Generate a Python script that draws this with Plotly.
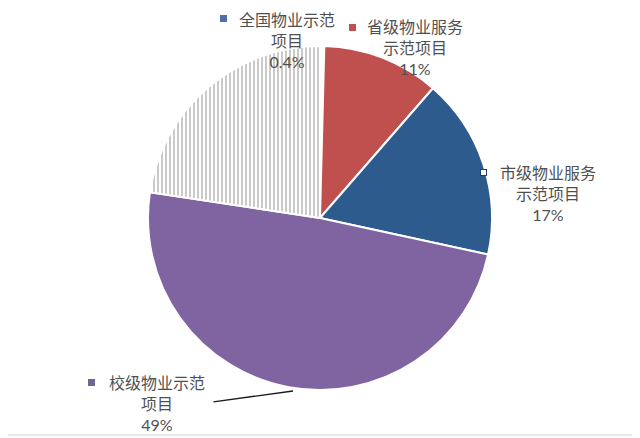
import plotly.graph_objects as go

# slice order follows the reference (clockwise from 12 o'clock)
labels = ['全国物业示范项目', '省级物业服务示范项目', '市级物业服务示范项目', '校级物业示范项目', '其他']
values = [0.4, 11, 17, 49, 22.6]
label_lines = [['全国物业示范', '项目'], ['省级物业服务', '示范项目'], ['市级物业服务', '示范项目'],
               ['校级物业示范', '项目'], None]
pct_text = ['0.4%', '11%', '17%', '49%', None]

colors = ['#ffffff', '#c0504d', '#2e5b8e', '#8064a2', '#ffffff']
key_colors = ['#4f6fa8', '#c0504d', '#ffffff', '#6e6690', None]
key_borders = ['#4f6fa8', '#c0504d', '#1f3f66', '#6e6690', None]

# page body has an 8px margin, so the figure is drawn 8px in from the window corner
OFF = 8
W, H = 640 - OFF, 438 - OFF


def px(x, y):
    # window pixel position -> paper coords
    return (x - OFF) / W, 1 - (y - OFF) / H


fig = go.Figure()

d_x0, d_y1 = px(148, 46)
d_x1, d_y0 = px(492, 390)
fig.add_trace(go.Pie(
    labels=labels, values=values,
    sort=False, direction='clockwise', rotation=0,
    textinfo='none', hoverinfo='label+percent',
    marker=dict(colors=colors, line=dict(color='white', width=2),
                pattern=dict(shape=['', '', '', '', '|'],
                             fgcolor='#c4c4c4', bgcolor='#ffffff',
                             size=4, solidity=0.45)),
    domain=dict(x=[d_x0, d_x1], y=[d_y0, d_y1]),
    showlegend=False,
))

# label positions (centre of text block, legend key)
text_pos = [(287, 40), (415, 47), (548, 193), (157, 403)]
key_pos = [(223, 19), (352, 27), (483, 172), (92, 382)]

annotations = []
for i in range(4):
    tx, ty = px(*text_pos[i])
    txt = '<br>'.join(label_lines[i] + [pct_text[i]])
    annotations.append(dict(x=tx, y=ty, xref='paper', yref='paper', text=txt,
                            showarrow=False, xanchor='center', yanchor='middle',
                            align='center',
                            font=dict(size=16, color='#505050',
                                      family='Lato, Noto Sans CJK SC')))
    kx, ky = px(*key_pos[i])
    annotations.append(dict(x=kx, y=ky, xref='paper', yref='paper', text=' ',
                            showarrow=False, xanchor='center', yanchor='middle',
                            width=5, height=5, borderpad=0,
                            bgcolor=key_colors[i], bordercolor=key_borders[i],
                            borderwidth=1, font=dict(size=2)))

# leader line for 校级
lx, ly = px(293, 391)
annotations.append(dict(x=lx, y=ly, xref='paper', yref='paper', text='',
                        showarrow=True, arrowhead=0, arrowwidth=1.3,
                        arrowcolor='#1a1a1a', ax=-81, ay=11, standoff=0))

bx0, by1 = px(3, 3)
bx1, by0 = px(636, 435)
fig.update_layout(
    width=W, height=H,
    margin=dict(l=0, r=0, t=0, b=0),
    paper_bgcolor='white',
    annotations=annotations,
    shapes=[dict(type='rect', xref='paper', yref='paper',
                 x0=bx0, x1=bx1, y0=by0, y1=by1,
                 line=dict(color='#e2e2e2', width=1.5))],
)

fig.write_html('out.html')
